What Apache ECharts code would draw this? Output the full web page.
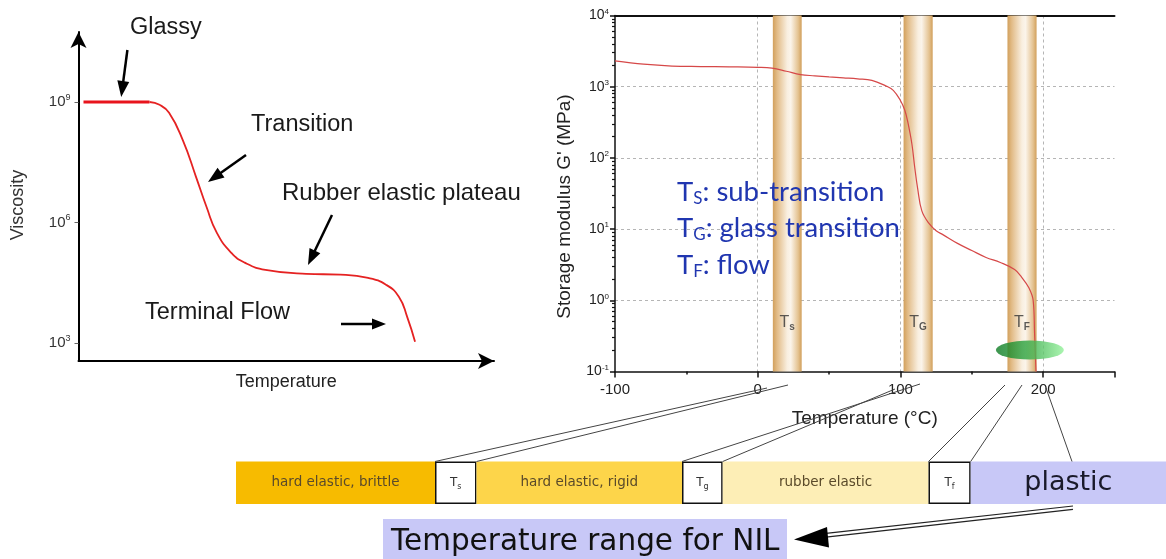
<!DOCTYPE html>
<html><head><meta charset="utf-8">
<script src="https://cdn.jsdelivr.net/npm/echarts@6/dist/echarts.min.js"></script>
<style>html,body{margin:0;padding:0;background:#fff;}#c{width:1166px;height:559px;}</style>
</head><body><div id="c"></div>
<script>
// ---------- Left chart: viscosity (log10) vs temperature (relative units) ----------
const leftFlatTemp = [1.2, 10, 17.1];
const leftFlatLogVisc = [9.0, 9.0, 9.0];
const leftTemp = [17.1, 19.5, 21.8, 25.1, 28.3, 30.8, 33.3, 36.8, 40.0, 45.0, 54.8, 63.0, 69.7, 74.0, 77.1, 79.1, 81.0];
const leftLogVisc = [9.0, 8.93, 8.73, 8.05, 7.13, 6.39, 5.74, 5.24, 5.0, 4.82, 4.72, 4.70, 4.62, 4.45, 4.15, 3.65, 3.03];
const leftYTickExps = [3, 6, 9];

// ---------- Right chart: storage modulus vs temperature ----------
const rightTemp = [-100, -80, -60, -40, -20, 0, 10, 20, 30, 40, 50, 60, 70, 80, 90, 95, 100, 103, 105, 108, 110, 112, 115, 120, 125, 130, 140, 150, 160, 170, 180, 185, 190, 193, 194, 195];
const rightModulus = [2300, 2070, 1950, 1920, 1900, 1870, 1820, 1650, 1480, 1420, 1370, 1330, 1290, 1230, 1020, 890, 640, 470, 330, 158, 74, 38, 18, 12, 9.5, 8.3, 6.3, 5.0, 4.0, 3.4, 2.7, 2.1, 1.5, 1.0, 0.34, 0.1];
const xTickLabels = [-100, 0, 100, 200];
const bandFrom = [10.6, 102.2, 175.0];
const bandTo = [30.8, 122.6, 195.4];
const bandSub = ['s', 'G', 'F'];
const bandLabelY = 0.48;
const flowMarker = [190.7, 0.2];
const legendLines = [['S', ': sub-transition'], ['G', ': glass transition'], ['F', ': flow']];

// ---------- Bottom strip ----------
const segLabels = ['hard elastic, brittle', 'T{sub|s}', 'hard elastic, rigid', 'T{sub|g}', 'rubber elastic', 'T{sub|f}', 'plastic'];
const segWidths = [199, 41.5, 205.5, 40.7, 205.8, 42.2, 195.3];
const segColors = ['#f7bb00', '#ffffff', '#fdd54a', '#ffffff', '#fdeeb6', '#ffffff', '#c8c8f7'];
const nilLabel = 'Temperature range for NIL';

const chart = echarts.init(document.getElementById('c'));
const F = 'Liberation Sans, Arial, sans-serif';

const minorVals = [];
for (let n = -1; n < 4; n++) for (let k = 2; k <= 9; k++) minorVals.push(n + Math.log10(k));

const barTop = 461.5, barLeft = 236;

const barSeries = segWidths.map((w, i) => {
  const isT = segLabels[i].startsWith('T{');
  const isPl = i === segLabels.length - 1;
  return {
    type: 'bar', stack: 'seg', xAxisIndex: 3, yAxisIndex: 3, barWidth: '100%',
    data: [w], silent: true,
    itemStyle: { color: segColors[i], borderColor: isT ? '#111' : segColors[i], borderWidth: isT ? 1.5 : 0 },
    label: {
      show: true, position: 'inside', formatter: segLabels[i],
      fontFamily: 'DejaVu Sans', fontSize: isPl ? 27 : (isT ? 12 : 13.5),
      color: isPl ? '#1a1a2a' : (isT ? '#333' : '#5a4a2a'),
      rich: { sub: { fontFamily: 'DejaVu Sans', fontSize: 8, color: '#333', padding: [8, 0, 0, 0] } }
    }
  };
});

const option = {
  animation: false,
  grid: [
    { left: 78.5, top: 32, width: 415.5, height: 329 },
    { left: 615, top: 15.5, width: 499.5, height: 356 },
    { left: barLeft, top: barTop, width: 930, height: 42.5 }
  ],
  xAxis: [
    { gridIndex: 0, type: 'value', min: 0, max: 100,
      axisLine: { onZero: false, lineStyle: { color: '#000', width: 2 }, symbol: ['none', 'arrow'], symbolSize: [12, 16] },
      axisTick: { show: false }, axisLabel: { show: false }, splitLine: { show: false },
      name: 'Temperature', nameLocation: 'middle', nameGap: 12,
      nameTextStyle: { fontFamily: F, fontSize: 18, color: '#222' } },
    { gridIndex: 1, type: 'value', min: -100, max: 250, interval: 100, position: 'bottom',
      axisLine: { onZero: false, lineStyle: { color: '#111', width: 1.5 } },
      axisTick: { length: 6, lineStyle: { color: '#111', width: 1.5 } },
      minorTick: { show: true, splitNumber: 2, length: 3, lineStyle: { color: '#111', width: 1.5 } },
      axisLabel: { margin: 11, fontFamily: F, fontSize: 15, color: '#222',
        formatter: v => xTickLabels.indexOf(v) >= 0 ? String(v) : '' },
      splitLine: { show: true, showMinLine: false, showMaxLine: false, lineStyle: { color: '#b5b5b5', type: [3, 3] } },
      name: 'Temperature (°C)', nameLocation: 'middle', nameGap: 38,
      nameTextStyle: { fontFamily: F, fontSize: 19, color: '#222' } },
    { gridIndex: 1, type: 'value', min: -100, max: 250, position: 'top',
      axisLine: { onZero: false, lineStyle: { color: '#111', width: 2 } },
      axisTick: { show: false }, axisLabel: { show: false }, splitLine: { show: false } },
    { gridIndex: 2, type: 'value', min: 0, max: 930, show: false }
  ],
  yAxis: [
    { gridIndex: 0, type: 'value', min: 2.55, max: 10.743,
      axisLine: { onZero: false, lineStyle: { color: '#000', width: 2 }, symbol: ['none', 'arrow'], symbolSize: [12, 16] },
      axisTick: { show: true, customValues: leftYTickExps, length: 4, lineStyle: { color: '#666' } },
      axisLabel: { customValues: leftYTickExps, margin: 8, formatter: v => '{b|10}{s|' + v + '}',
        rich: { b: { fontFamily: F, fontSize: 15, color: '#333' },
                s: { fontFamily: F, fontSize: 9, color: '#333', padding: [0, 0, 9, 0] } } },
      splitLine: { show: false },
      name: 'Viscosity', nameLocation: 'middle', nameGap: 51,
      nameTextStyle: { fontFamily: F, fontSize: 18, color: '#333', padding: [0, 17, 0, 0] } },
    { gridIndex: 1, type: 'log', logBase: 10, min: 0.1, max: 10000, position: 'left',
      axisLine: { show: true, onZero: false, lineStyle: { color: '#111', width: 1.5 } },
      axisTick: { show: true, length: 5, lineStyle: { color: '#111', width: 1.5 } },
      axisLabel: { margin: 6, formatter: v => '{b|10}{s|' + Math.round(Math.log10(v)) + '}',
        rich: { b: { fontFamily: F, fontSize: 14, color: '#222' },
                s: { fontFamily: F, fontSize: 8, color: '#222', padding: [0, 0, 8, 0] } } },
      splitLine: { show: true, showMinLine: false, showMaxLine: false, lineStyle: { color: '#b5b5b5', type: [3, 3] } },
      name: "Storage modulus G' (MPa)", nameLocation: 'middle', nameGap: 41,
      nameTextStyle: { fontFamily: F, fontSize: 19, color: '#222', padding: [0, 26, 0, 0] } },
    { gridIndex: 1, type: 'value', min: -1, max: 4, position: 'left',
      axisLine: { show: false, onZero: false }, axisLabel: { show: false }, splitLine: { show: false },
      axisTick: { show: true, customValues: minorVals, length: 3, lineStyle: { color: '#111', width: 1.2 } } },
    { gridIndex: 2, type: 'category', data: ['strip'], show: false }
  ],
  series: [
    { type: 'line', xAxisIndex: 0, yAxisIndex: 0, symbol: 'none',
      data: leftFlatTemp.map((t, i) => [t, leftFlatLogVisc[i]]),
      lineStyle: { color: '#e8141c', width: 3 } },
    { type: 'line', xAxisIndex: 0, yAxisIndex: 0, symbol: 'none', smooth: 0.5,
      data: leftTemp.map((t, i) => [t, leftLogVisc[i]]),
      lineStyle: { color: '#e52222', width: 1.8 } },
    { type: 'line', xAxisIndex: 1, yAxisIndex: 1, symbol: 'none', smooth: 0.4, z: 3,
      data: rightTemp.map((t, i) => [t, rightModulus[i]]),
      lineStyle: { color: '#d64848', width: 1.2 },
      markArea: { silent: true,
        itemStyle: { color: new echarts.graphic.LinearGradient(0, 0, 1, 0, [
          { offset: 0, color: '#d2a05c' }, { offset: 0.15, color: '#e2bc88' },
          { offset: 0.5, color: '#f9efe0' }, { offset: 0.62, color: '#fbf4ea' },
          { offset: 0.88, color: '#e4c290' }, { offset: 1, color: '#d19f5a' }]) },
        data: bandFrom.map((f, i) => [{ xAxis: f }, { xAxis: bandTo[i] }]) } },
    { type: 'scatter', xAxisIndex: 1, yAxisIndex: 1, symbolSize: 0, z: 4,
      data: bandFrom.map((f, i) => [(f + bandTo[i]) / 2, bandLabelY, bandSub[i]]),
      label: { show: true, position: 'inside', formatter: p => '{t|T}{sub|' + p.data[2] + '}',
        rich: { t: { fontFamily: F, fontSize: 16, color: '#333' },
                sub: { fontFamily: F, fontSize: 10, fontWeight: 'bold', color: '#333', padding: [9, 0, 0, 0] } } } },
    { type: 'scatter', xAxisIndex: 1, yAxisIndex: 1, symbol: 'circle', symbolSize: [68, 19], z: 5,
      data: [flowMarker],
      itemStyle: { color: new echarts.graphic.LinearGradient(0, 0, 1, 0, [
        { offset: 0, color: '#0c7a22' }, { offset: 0.45, color: '#2ea540' }, { offset: 1, color: '#95f29c' }]) } },
    ...barSeries
  ]
};
chart.setOption(option);

// ---------- annotations ----------
function arrowEls(x1, y1, x2, y2, hl, hw, lw) {
  const dx = x2 - x1, dy = y2 - y1, L = Math.hypot(dx, dy), ux = dx / L, uy = dy / L;
  const bx = x2 - ux * hl, by = y2 - uy * hl;
  return [
    { type: 'line', shape: { x1: x1, y1: y1, x2: bx + ux, y2: by + uy }, style: { stroke: '#000', lineWidth: lw } },
    { type: 'polygon', shape: { points: [[x2, y2], [bx - uy * hw / 2, by + ux * hw / 2], [bx + uy * hw / 2, by - ux * hw / 2]] }, style: { fill: '#000' } }
  ];
}
const txt = (s, x, y, size) => ({ type: 'text', style: { text: s, x: x, y: y, fontFamily: F, fontSize: size, fill: '#1a1a1a', verticalAlign: 'middle' } });

const els = [];
els.push(txt('Glassy', 130, 28, 23.5));
els.push(txt('Transition', 251, 125, 23.5));
els.push(txt('Rubber elastic plateau', 282, 193, 24));
els.push(txt('Terminal Flow', 145, 313, 23.5));
els.push(...arrowEls(127.4, 50, 121.2, 97, 16, 12, 2.5));
els.push(...arrowEls(246, 155, 208, 182, 16, 12, 2.5));
els.push(...arrowEls(332, 215, 308, 265, 16, 12, 2.5));
els.push(...arrowEls(341, 324, 386, 324, 14, 11, 2.5));

// blue legend text
legendLines.forEach((l, i) => {
  els.push({ type: 'text', z: 20, style: { text: 'T{sub|' + l[0] + '}' + l[1], x: 677, y: 192 + i * 36.5,
    verticalAlign: 'middle', fontFamily: 'Lato', fontSize: 27.5, fill: '#2036b0',
    rich: { sub: { fontFamily: 'Lato', fontSize: 17, fill: '#2036b0', padding: [13, 0, 0, 0] } } } });
});

// connector lines from strip to temperature axis
let cum = 0; const edges = [];
segWidths.forEach(w => { edges.push(chart.convertToPixel({ xAxisIndex: 3 }, cum)); cum += w; });
edges.push(chart.convertToPixel({ xAxisIndex: 3 }, cum));
// edges index: 1 = Ts left, 2 = Ts right, 3 = Tg left, 4 = Tg right, 5 = Tf left, 6 = Tf right
const conn = [[edges[1], 767, 388], [edges[2], 788, 385], [edges[3], 920, 384], [edges[4], 895, 389],
              [edges[5], 1005, 385], [edges[6], 1022, 385], [1072, 1046, 388]];
conn.forEach(c => els.push({ type: 'line', z: 30, shape: { x1: c[0], y1: barTop, x2: c[1], y2: c[2] }, style: { stroke: '#444', lineWidth: 1 } }));

// NIL box
els.push({ type: 'rect', z: 10, shape: { x: 383, y: 519, width: 404, height: 40 }, style: { fill: '#c8c8f7' } });
els.push({ type: 'text', z: 11, style: { text: nilLabel, x: 391, y: 542, verticalAlign: 'middle', fontFamily: 'DejaVu Sans', fontSize: 29.5, fill: '#111' } });
// double-line arrow
els.push({ type: 'line', z: 12, shape: { x1: 1073, y1: 506, x2: 826, y2: 533.4 }, style: { stroke: '#222', lineWidth: 1.2 } });
els.push({ type: 'line', z: 12, shape: { x1: 1073, y1: 509.3, x2: 826, y2: 537.2 }, style: { stroke: '#222', lineWidth: 1.2 } });
els.push({ type: 'polygon', z: 12, shape: { points: [[794, 539.5], [827, 527], [829, 547.5]] }, style: { fill: '#000' } });

chart.setOption({ graphic: { elements: els } });
</script></body></html>
